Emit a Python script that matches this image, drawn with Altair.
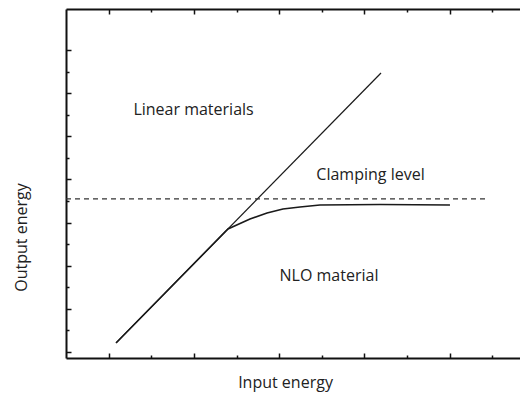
import altair as alt
import pandas as pd

# ---- data ----
linear_x = [1.087, 4.195]
linear_y = [1.209, 7.467]

nlo_x = [1.087, 2.400, 2.658, 2.858, 3.045, 3.245, 3.479, 4.183, 5.004]
nlo_y = [1.209, 3.851, 4.083, 4.222, 4.315, 4.361, 4.408, 4.419, 4.408]

clamp_x = [0.5, 5.45]
clamp_y = [4.547, 4.547]

label_text = ["Linear materials", "Clamping level", "NLO material"]
label_x = [1.996, 4.072, 3.585]
label_y = [6.61, 5.103, 2.762]

x_ticks = [1, 1.5, 2, 2.5, 3, 3.5, 4, 4.5, 5, 5.5]
y_ticks = [1, 1.5, 2, 2.5, 3, 3.5, 4, 4.5, 5, 5.5, 6, 6.5, 7, 7.5, 8]

x_title = "Input energy"
y_title = "Output energy"

# ---- tables ----
lin_df = pd.DataFrame({"x": linear_x, "y": linear_y})
nlo_df = pd.DataFrame({"x": nlo_x, "y": nlo_y})
clamp_df = pd.DataFrame({"x": clamp_x, "y": clamp_y})
lab_df = pd.DataFrame({"x": label_x, "y": label_y, "t": label_text})

W, H = 454, 349
FONT = "Open Sans"
INK = "#1a1a1a"
FS = 16

xs = alt.Scale(domain=[0.5, 0.5 + W / 85.25], nice=False, zero=False)
ys = alt.Scale(domain=[0.86, 8.95], nice=False, zero=False)

tick_len = {"condition": {"test": "datum.value % 1 === 0", "value": 5}, "value": 3}

# NLO line with main axes (frame lines + titles)
nlo = alt.Chart(nlo_df).mark_line(color=INK, strokeWidth=1.6).encode(
    x=alt.X("x:Q", scale=xs, axis=alt.Axis(
        orient="bottom", ticks=False, labels=False, grid=False,
        domainColor="#111", domainWidth=2, title=x_title,
        titleX=219, titleY=24, titleBaseline="middle", titleAlign="center",
        titleFont=FONT, titleFontSize=FS, titleFontWeight="normal", titleColor="#222")),
    y=alt.Y("y:Q", scale=ys, axis=alt.Axis(
        orient="left", ticks=False, labels=False, grid=False,
        domainColor="#111", domainWidth=2, title=y_title,
        titleX=-45, titleY=228, titleAngle=-90, titleBaseline="middle", titleAlign="center",
        titleFont=FONT, titleFontSize=FS, titleFontWeight="normal", titleColor="#222")),
    order="x:Q",
)

# linear line; its axes draw the inward ticks on bottom and left edges
lin = alt.Chart(lin_df).mark_line(color=INK, strokeWidth=1.2).encode(
    x=alt.X("x:Q", scale=xs, axis=alt.Axis(
        orient="top", offset=-H, domain=False, labels=False, grid=False,
        ticks=True, values=x_ticks, tickSize=tick_len, tickColor="#111", tickWidth=1.5,
        title=None)),
    y=alt.Y("y:Q", scale=ys, axis=alt.Axis(
        orient="right", offset=-W, domain=False, labels=False, grid=False,
        ticks=True, values=y_ticks, tickSize=tick_len, tickColor="#111", tickWidth=1.5,
        title=None)),
)

# clamping level dashed line; its x axis draws the top frame with inward ticks
clamp = alt.Chart(clamp_df).mark_line(color="#333", strokeWidth=1.3, strokeDash=[5, 4]).encode(
    x=alt.X("x:Q", scale=xs, axis=alt.Axis(
        orient="bottom", offset=-H, domain=True, domainColor="#111", domainWidth=2,
        labels=False, grid=False, ticks=True, values=x_ticks, tickSize=tick_len,
        tickColor="#111", tickWidth=1.5, title=None)),
    y=alt.Y("y:Q", scale=ys, axis=None),
)

labels = alt.Chart(lab_df).mark_text(font=FONT, fontSize=FS, color="#222").encode(
    x=alt.X("x:Q", scale=xs, axis=None),
    y=alt.Y("y:Q", scale=ys, axis=None),
    text="t:N",
)

chart = alt.layer(nlo, lin, clamp, labels).resolve_axis(
    x="independent", y="independent"
).properties(
    width=W, height=H,
    autosize=alt.AutoSizeParams(type="none"),
    padding={"left": 58, "top": 1, "right": 0, "bottom": 37},
    background="white",
).configure_view(stroke=None)

chart.save("out.html", embed_options={"renderer": "svg", "actions": False})
